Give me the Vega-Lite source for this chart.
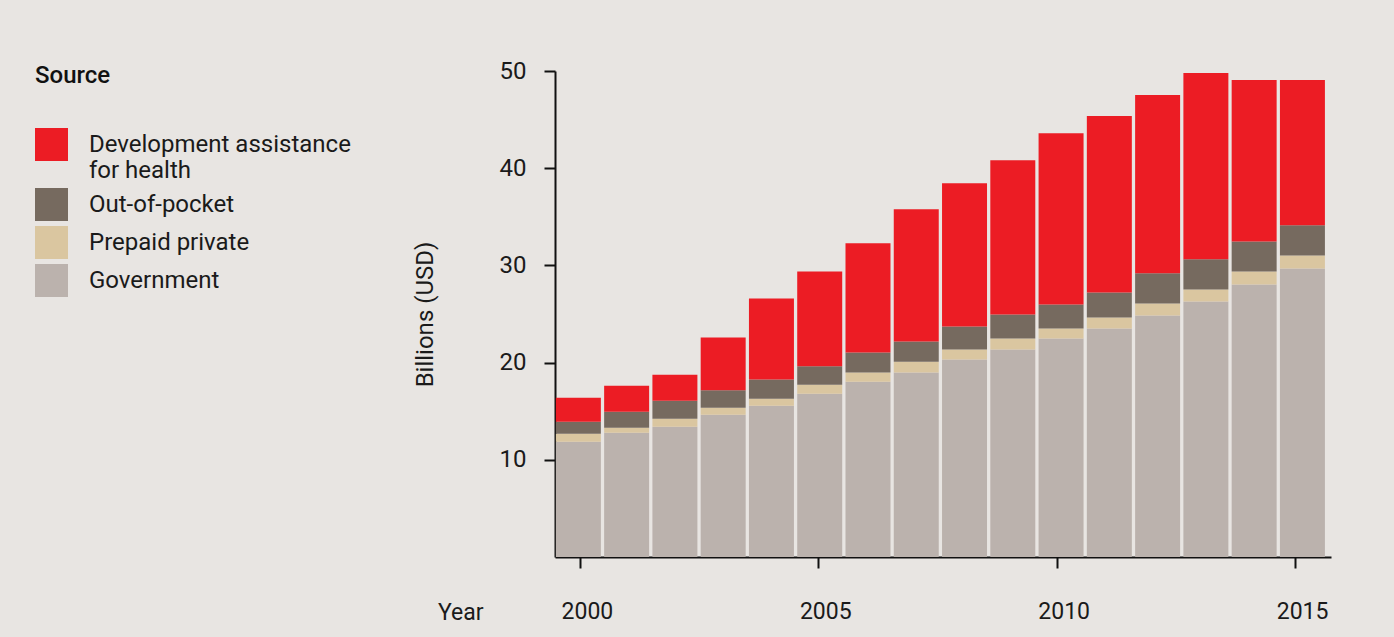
{
  "$schema": "https://vega.github.io/schema/vega-lite/v6.json",
  "width": 776,
  "height": 486,
  "autosize": {"type": "none"},
  "padding": {"left": 555, "top": 71, "right": 63, "bottom": 80},
  "background": "#e8e5e2",
  "config": {
    "view": {"stroke": null},
    "font": "Roboto",
    "axis": {
      "grid": false,
      "domainColor": "#111111",
      "domainWidth": 2,
      "tickColor": "#111111",
      "tickWidth": 2,
      "tickSize": 11,
      "labelColor": "#1a1a1a",
      "titleColor": "#1a1a1a",
      "labelFont": "Roboto",
      "titleFont": "Roboto"
    }
  },
  "data": {
    "values": [
      {"year": 2000, "Government": 11.86, "Prepaid private": 0.82, "Out-of-pocket": 1.24, "Development assistance for health": 2.47},
      {"year": 2001, "Government": 12.78, "Prepaid private": 0.52, "Out-of-pocket": 1.65, "Development assistance for health": 2.68},
      {"year": 2002, "Government": 13.40, "Prepaid private": 0.83, "Out-of-pocket": 1.85, "Development assistance for health": 2.68},
      {"year": 2003, "Government": 14.64, "Prepaid private": 0.72, "Out-of-pocket": 1.79, "Development assistance for health": 5.43},
      {"year": 2004, "Government": 15.57, "Prepaid private": 0.72, "Out-of-pocket": 1.96, "Development assistance for health": 8.35},
      {"year": 2005, "Government": 16.80, "Prepaid private": 0.93, "Out-of-pocket": 1.89, "Development assistance for health": 9.76},
      {"year": 2006, "Government": 18.04, "Prepaid private": 0.93, "Out-of-pocket": 2.06, "Development assistance for health": 11.24},
      {"year": 2007, "Government": 18.97, "Prepaid private": 1.13, "Out-of-pocket": 2.06, "Development assistance for health": 13.61},
      {"year": 2008, "Government": 20.31, "Prepaid private": 1.03, "Out-of-pocket": 2.37, "Development assistance for health": 14.74},
      {"year": 2009, "Government": 21.34, "Prepaid private": 1.13, "Out-of-pocket": 2.48, "Development assistance for health": 15.87},
      {"year": 2010, "Government": 22.47, "Prepaid private": 1.03, "Out-of-pocket": 2.48, "Development assistance for health": 17.62},
      {"year": 2011, "Government": 23.50, "Prepaid private": 1.14, "Out-of-pocket": 2.58, "Development assistance for health": 18.14},
      {"year": 2012, "Government": 24.85, "Prepaid private": 1.23, "Out-of-pocket": 3.10, "Development assistance for health": 18.35},
      {"year": 2013, "Government": 26.29, "Prepaid private": 1.24, "Out-of-pocket": 3.09, "Development assistance for health": 19.17},
      {"year": 2014, "Government": 28.04, "Prepaid private": 1.34, "Out-of-pocket": 3.09, "Development assistance for health": 16.60},
      {"year": 2015, "Government": 29.69, "Prepaid private": 1.34, "Out-of-pocket": 3.09, "Development assistance for health": 14.95}
    ]
  },
  "transform": [
    {"fold": ["Government", "Prepaid private", "Out-of-pocket", "Development assistance for health"], "as": ["source", "value"]},
    {"calculate": "indexof(['Government', 'Prepaid private', 'Out-of-pocket', 'Development assistance for health'], datum.source)", "as": "stackOrder"}
  ],
  "layer": [
    {
      "mark": {"type": "bar"},
      "encoding": {
        "x": {
          "field": "year",
          "type": "ordinal",
          "scale": {"paddingInner": 0.068, "paddingOuter": 0.072, "align": 0.125},
          "axis": null
        },
        "y": {
          "field": "value",
          "type": "quantitative",
          "stack": "zero",
          "scale": {"domain": [0, 50], "nice": false},
          "axis": {
            "values": [10, 20, 30, 40, 50],
            "title": "Billions (USD)",
            "titleFontSize": 24,
            "titleFontWeight": "normal",
            "titlePadding": 62,
            "labelFontSize": 24,
            "labelPadding": 18
          }
        },
        "color": {
          "field": "source",
          "type": "nominal",
          "scale": {
            "domain": ["Development assistance for health", "Out-of-pocket", "Prepaid private", "Government"],
            "range": ["#ec1c24", "#766a5f", "#dac6a0", "#bbb2ad"]
          },
          "legend": {
            "orient": "none",
            "legendX": -520,
            "legendY": -7,
            "title": "Source",
            "titleFont": "Roboto",
            "titleFontSize": 24,
            "titleFontWeight": 500,
            "titleColor": "#111111",
            "titlePadding": 40,
            "labelFont": "Roboto",
            "labelFontSize": 24,
            "labelColor": "#1a1a1a",
            "labelOffset": 21,
            "labelLimit": 400,
            "labelExpr": "datum.label == 'Development assistance for health' ? ['Development assistance', 'for health'] : datum.label",
            "symbolType": "square",
            "symbolSize": 1089,
            "symbolStrokeWidth": 0,
            "symbolOpacity": 1,
            "rowPadding": 5,
            "padding": 0
          }
        },
        "order": {"field": "stackOrder", "type": "quantitative"}
      }
    },
    {
      "mark": {"type": "rule", "opacity": 0},
      "encoding": {
        "x": {
          "field": "year",
          "type": "quantitative",
          "scale": {"domain": [1999.478, 2015.753], "nice": false, "zero": false},
          "axis": {
            "orient": "bottom",
            "values": [2000, 2005, 2010, 2015],
            "format": "d",
            "title": "Year",
            "titleX": -72,
            "titleY": 62,
            "titleAlign": "right",
            "titleBaseline": "alphabetic",
            "titleFontSize": 23,
            "titleFontWeight": "normal",
            "labelFontSize": 23,
            "labelPadding": 32,
            "labelOffset": 7
          }
        }
      }
    }
  ],
  "resolve": {"scale": {"x": "independent"}, "axis": {"x": "independent"}}
}
